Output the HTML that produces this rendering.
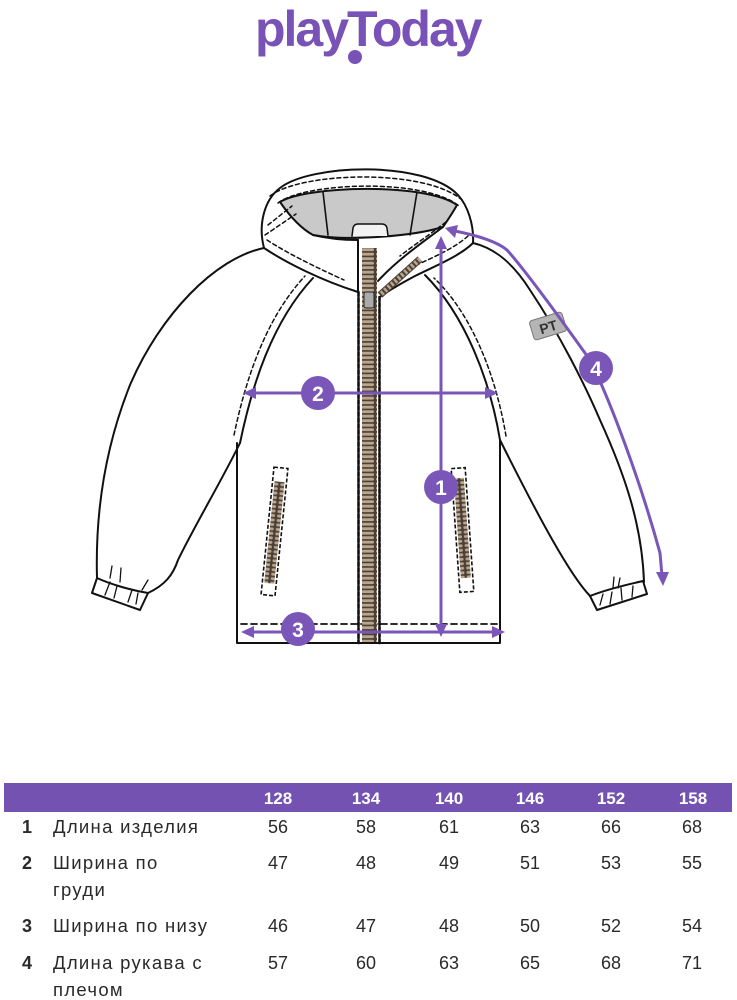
<!DOCTYPE html>
<html><head><meta charset="utf-8">
<style>
html,body{margin:0;padding:0;background:#fff;}
body{width:737px;height:1000px;overflow:hidden;position:relative;}
svg{position:absolute;left:0;top:0;}
</style></head>
<body>
<svg width="737" height="1000" viewBox="0 0 737 1000" xmlns="http://www.w3.org/2000/svg">
<defs>
<pattern id="teeth" width="15" height="4.5" patternUnits="userSpaceOnUse">
<rect width="15" height="4.5" fill="#4a4038"/>
<rect x="1" y="0.8" width="13" height="2.8" rx="1.2" fill="#bba58c"/>
</pattern>
<pattern id="pteeth" width="12" height="4.5" patternUnits="userSpaceOnUse">
<rect width="12" height="4.5" fill="#4a4038"/>
<rect x="1" y="0.8" width="10" height="2.8" rx="1.2" fill="#bba58c"/>
</pattern>
</defs>

<!-- Logo -->
<text x="255" y="46" font-family="Liberation Sans, sans-serif" font-weight="bold" font-size="50" letter-spacing="-2" fill="#7852b7">playToday</text>
<circle cx="355" cy="57" r="7" fill="#7852b7"/>

<g fill="none" stroke="#111" stroke-width="2" stroke-linejoin="round" stroke-linecap="round">
<!-- gray hood interior -->
<path d="M280,202 C305,186 425,182 457,205 C452,214 447,221 443,227 C410,237 345,241 313,235 C300,228 289,215 280,202 Z" fill="#c9c9c9"/>
<path d="M323,192 L328,235 M417,192 L410,235" stroke-width="1.6"/>
<path d="M352,236 L353,228 Q354,224 358,224 L382,224 Q386,224 387,228 L388,236" fill="#f2f2f2" stroke-width="1.5"/>

<!-- hood outer -->
<path d="M264,248 C258,225 264,200 280,188 C310,164 425,160 458,195 C468,206 474,225 473,243"/>
<path d="M270,196 C300,172 425,168 462,200" stroke-dasharray="4 3" stroke-width="1.5"/>
<path d="M278,203 C305,182 425,178 459,206" stroke-dasharray="4 3" stroke-width="1.5"/>
<!-- left hood lower edge -->
<path d="M264,248 C285,262 320,280 358,292"/>
<path d="M267,240 C290,255 322,270 344,280" stroke-dasharray="4 3" stroke-width="1.5"/>
<path d="M265,235 L296,214 M268,225 L292,206" stroke-dasharray="4 3" stroke-width="1.5"/>
<path d="M313,235 C330,239 345,240 358,240"/>
<!-- right hood lower edge / lapel -->
<path d="M473,243 C460,256 435,266 415,276 C400,284 388,291 380,297"/>
<path d="M468,236 C455,248 432,258 412,267" stroke-dasharray="4 3" stroke-width="1.5"/>
<path d="M443,227 C420,244 395,262 378,281"/>
<path d="M446,222 C425,238 410,248 400,256" stroke-dasharray="4 3" stroke-width="1.5"/>

<!-- left sleeve -->
<path d="M264,248 C215,258 160,315 130,385 C108,440 95,505 97,578"/>
<path d="M97,578 L92,593 L140,610 L148,593 C130,590 110,584 97,578 Z"/>
<path d="M148,593 C165,585 173,575 178,560 C195,525 222,480 240,443"/>
<path d="M105,595 L110,582 M114,598 L117,586 M128,602 L132,590 M136,604 L138,593 M110,578 L112,566 M120,582 L121,568 M142,590 L148,580" stroke-width="1.3"/>
<!-- left raglan -->
<path d="M240,443 C252,385 272,322 313,278"/>
<path d="M234,435 C246,378 266,318 305,276" stroke-dasharray="4 3" stroke-width="1.5"/>

<!-- right sleeve -->
<path d="M473,243 C490,247 510,258 530,290 C560,335 585,385 600,420 C625,475 642,525 644,582"/>
<path d="M590,596 L597,610 L647,594 L643,581 C625,585 605,590 590,596 Z"/>
<path d="M590,596 C570,575 540,520 500,440"/>
<path d="M600,605 L603,594 M610,604 L612,592 M622,600 L621,588 M632,597 L633,586 M613,588 L614,577 M618,588 L620,578" stroke-width="1.3"/>
<!-- right raglan -->
<path d="M500,440 C490,380 465,315 425,275"/>
<path d="M506,436 C496,376 472,314 434,278" stroke-dasharray="4 3" stroke-width="1.5"/>

<!-- body -->
<path d="M237,443 L237,643 L500,643 L500,440"/>
<path d="M241,624 L498,624" stroke-dasharray="6 4" stroke-width="1.8"/>

<!-- zipper -->
<rect x="362" y="248" width="15" height="394" fill="url(#teeth)" stroke="none"/>
<path d="M358,240 L358,292"/>
<path d="M358.5,292 L358.5,643 M379.5,297 L379.5,643" stroke-dasharray="4 2" stroke-width="2.6"/>
<rect x="364" y="292" width="10" height="16" rx="2" fill="#aaa" stroke="#222" stroke-width="1"/>
</g>

<!-- lapel teeth -->
<path d="M420,259 L380,295" stroke="#4a4038" stroke-width="7" fill="none"/>
<path d="M420,259 L380,295" stroke="#bba58c" stroke-width="5" stroke-dasharray="2.5 2" fill="none"/>

<!-- pockets -->
<g transform="translate(274.5,531.5) rotate(5.8)">
<rect x="-7" y="-64" width="14" height="128" fill="#fff" stroke="#111" stroke-width="1.6" stroke-dasharray="4 2"/>
<rect x="-5" y="-50" width="10" height="102" fill="url(#pteeth)"/>
</g>
<g transform="translate(462.5,530) rotate(-4)">
<rect x="-7" y="-62" width="14" height="124" fill="#fff" stroke="#111" stroke-width="1.6" stroke-dasharray="4 2"/>
<rect x="-5" y="-52" width="10" height="100" fill="url(#pteeth)"/>
</g>

<!-- badge -->
<g transform="translate(548,326) rotate(-17)">
<rect x="-17" y="-10" width="34" height="20" rx="3" fill="#b5b5b5" stroke="#777" stroke-width="1"/>
<text x="0" y="6" text-anchor="middle" font-family="Liberation Sans, sans-serif" font-weight="bold" font-size="14" fill="#333">PT</text>
</g>

<!-- measurement lines -->
<g stroke="#7a56b9" stroke-width="3" fill="none" stroke-linecap="round">
<path d="M441,246 L441,628"/>
<path d="M252,393 L489,393"/>
<path d="M250,632 L496,632"/>
<path d="M455,231 C470,234 495,240 507,250 C525,270 565,325 590,360 C610,400 640,480 660,553 L662,576"/>
</g>
<g fill="#7a56b9">
<polygon points="441,236 435,249 447,249"/>
<polygon points="441,637 435,624 447,624"/>
<polygon points="243,393 256,387 256,399"/>
<polygon points="498,393 485,387 485,399"/>
<polygon points="241,632 254,626 254,638"/>
<polygon points="505,632 492,626 492,638"/>
<polygon points="445,228 458,225 455,238"/>
<polygon points="663,586 656,572 669,572"/>
<circle cx="441" cy="487" r="17"/>
<circle cx="318" cy="393" r="17"/>
<circle cx="298" cy="629" r="17"/>
<circle cx="596" cy="368" r="17"/>
</g>
<g fill="#fff" font-family="Liberation Sans, sans-serif" font-weight="bold" font-size="21" text-anchor="middle">
<text x="441" y="495">1</text>
<text x="318" y="401">2</text>
<text x="298" y="637">3</text>
<text x="596" y="376">4</text>
</g>

<!-- table -->
<rect x="4" y="783" width="728" height="29" fill="#7452b2"/>
<g fill="#fff" font-family="Liberation Sans, sans-serif" font-weight="bold" font-size="17" text-anchor="middle">
<text x="278" y="804">128</text>
<text x="366" y="804">134</text>
<text x="449" y="804">140</text>
<text x="530" y="804">146</text>
<text x="611" y="804">152</text>
<text x="693" y="804">158</text>
</g>
<g fill="#2a2a2a" font-family="Liberation Sans, sans-serif" font-size="18">
<g font-weight="bold" text-anchor="middle">
<text x="27" y="833">1</text>
<text x="27" y="869">2</text>
<text x="27" y="932">3</text>
<text x="27" y="969">4</text>
</g>
<g font-size="18.5" letter-spacing="1.3">
<text x="53" y="833">Длина изделия</text>
<text x="53" y="869">Ширина по</text>
<text x="53" y="896">груди</text>
<text x="53" y="932">Ширина по низу</text>
<text x="53" y="969">Длина рукава с</text>
<text x="53" y="996">плечом</text>
</g>
<g text-anchor="middle">
<text x="278" y="833">56</text><text x="366" y="833">58</text><text x="449" y="833">61</text><text x="530" y="833">63</text><text x="611" y="833">66</text><text x="692" y="833">68</text>
<text x="278" y="869">47</text><text x="366" y="869">48</text><text x="449" y="869">49</text><text x="530" y="869">51</text><text x="611" y="869">53</text><text x="692" y="869">55</text>
<text x="278" y="932">46</text><text x="366" y="932">47</text><text x="449" y="932">48</text><text x="530" y="932">50</text><text x="611" y="932">52</text><text x="692" y="932">54</text>
<text x="278" y="969">57</text><text x="366" y="969">60</text><text x="449" y="969">63</text><text x="530" y="969">65</text><text x="611" y="969">68</text><text x="692" y="969">71</text>
</g>
</g>
</svg>
</body></html>
